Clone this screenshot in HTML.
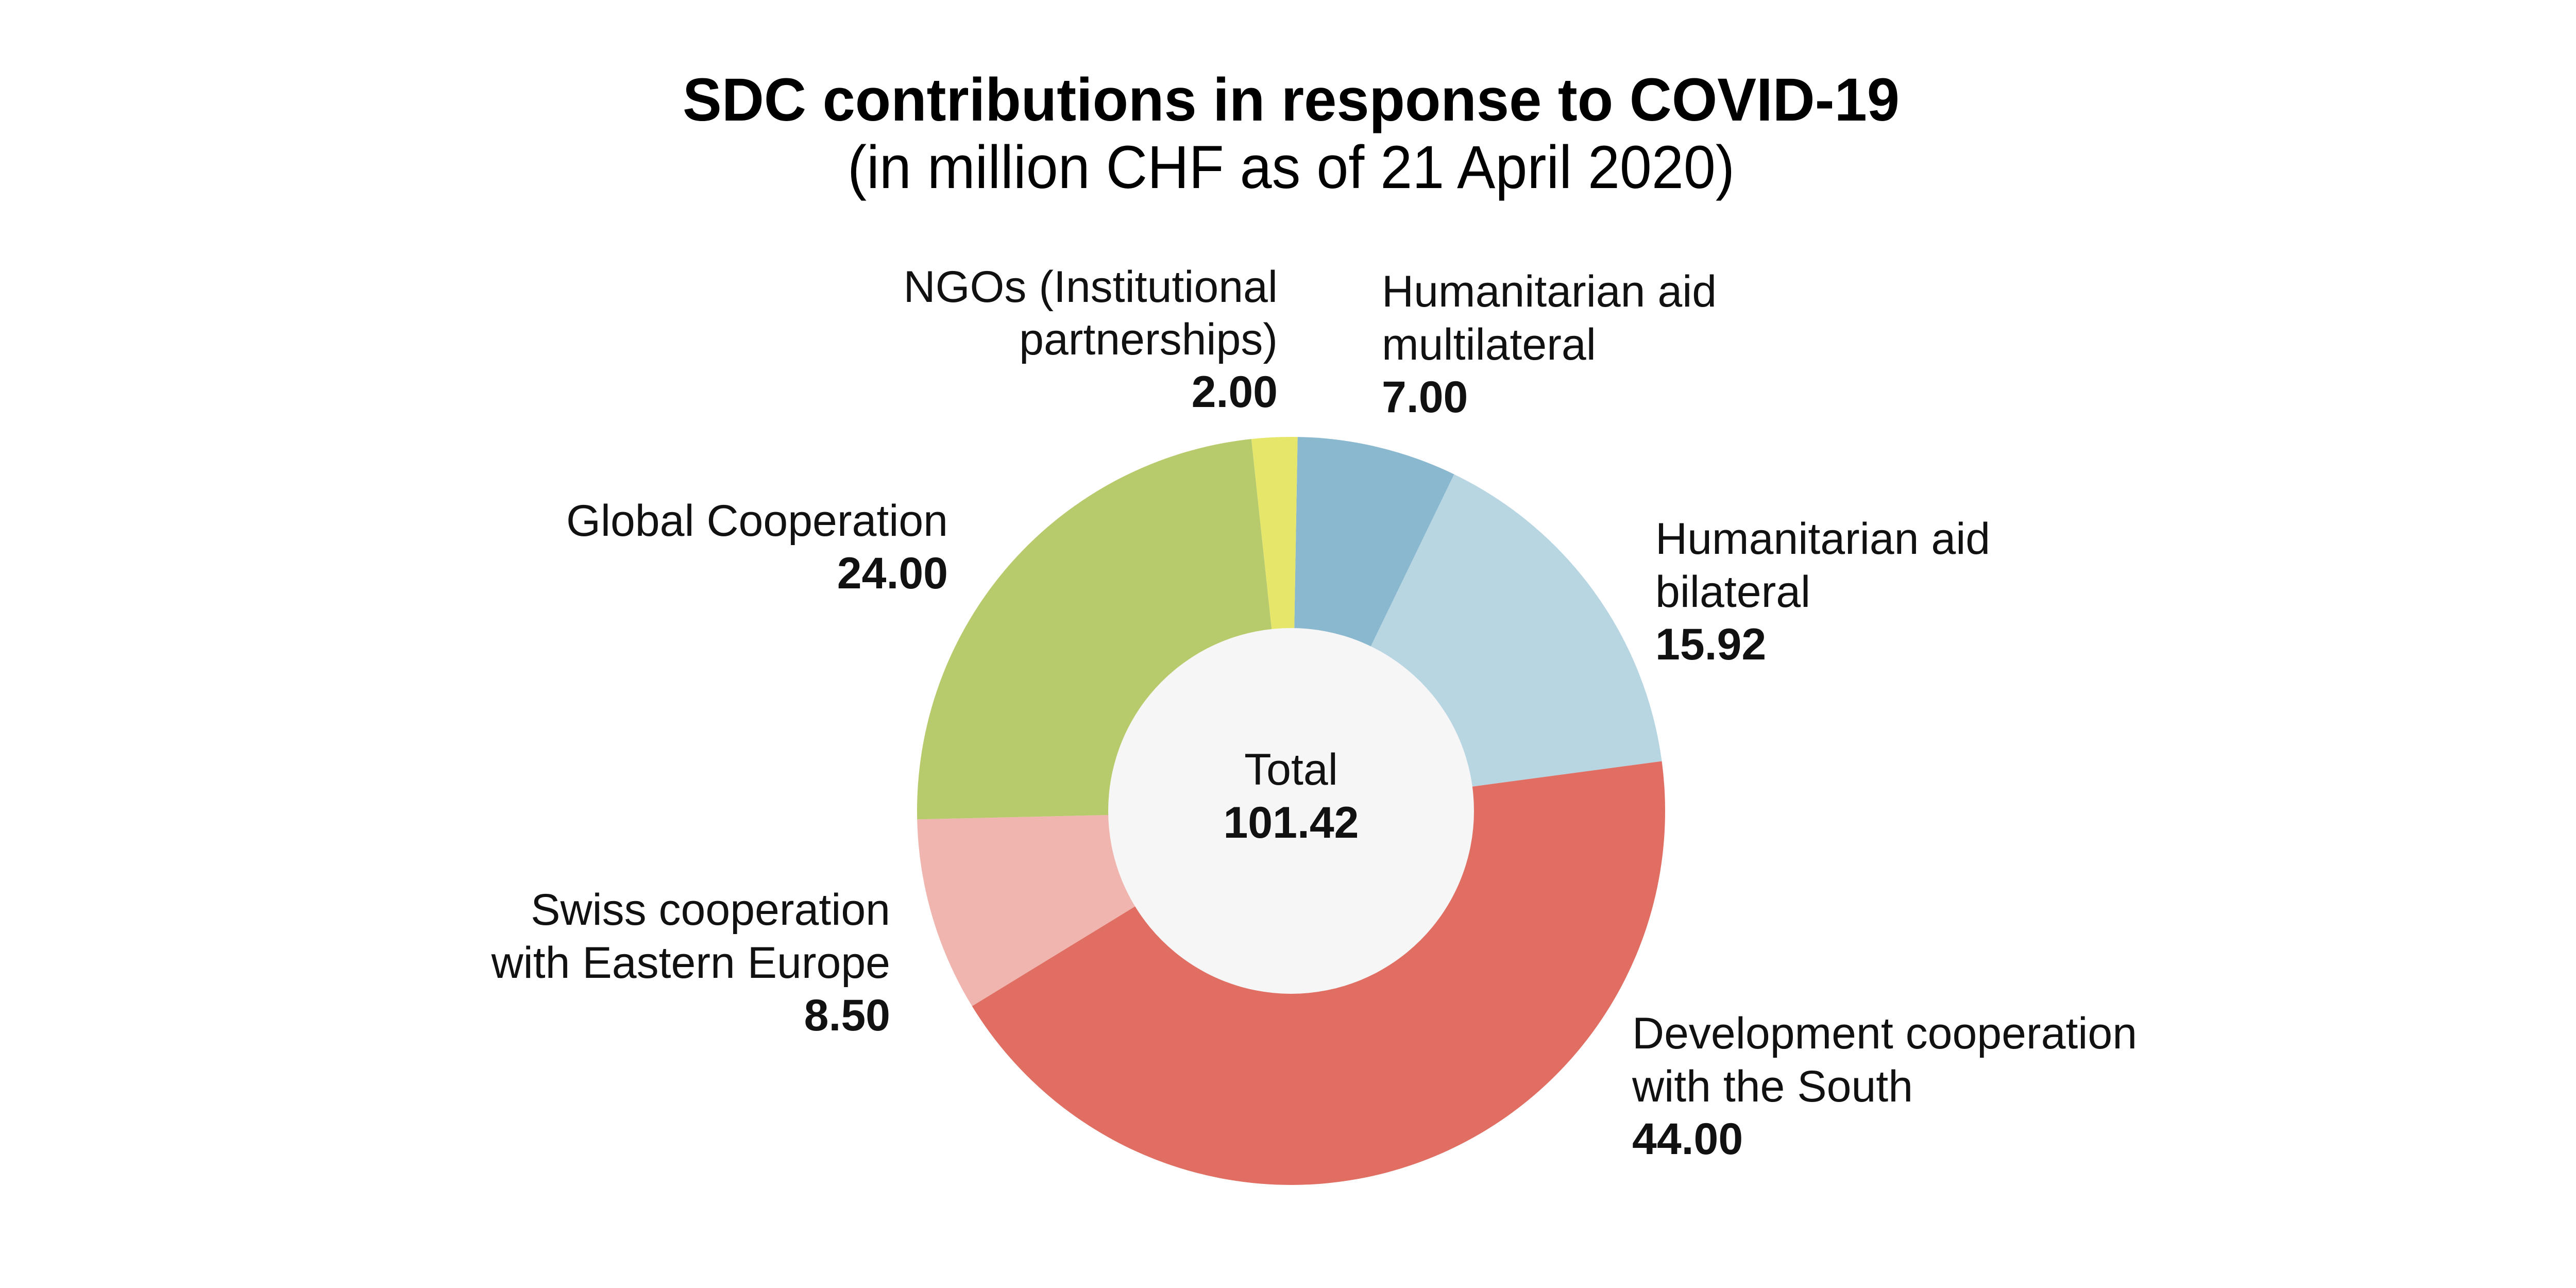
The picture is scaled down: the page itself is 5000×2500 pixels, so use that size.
<!DOCTYPE html>
<html><head><meta charset="utf-8"><style>
html,body{margin:0;padding:0;background:#fff;}
svg{display:block;font-family:"Liberation Sans",sans-serif;}
</style></head><body>
<svg id="chart" width="5000" height="2500" viewBox="0 0 5000 2500">
<text x="2506" y="234" text-anchor="middle" font-size="118" font-weight="bold" textLength="2362" lengthAdjust="spacingAndGlyphs">SDC contributions in response to COVID-19</text>
<text x="2506" y="365" text-anchor="middle" font-size="118" textLength="1722" lengthAdjust="spacingAndGlyphs">(in million CHF as of 21 April 2020)</text>
<g id="slices"></g>
<circle cx="2506" cy="1574" r="355" fill="#f6f6f6"/>
<g font-size="86" fill="#111">
<text x="2506" y="1523" text-anchor="middle">Total</text>
<text x="2506" y="1626" text-anchor="middle" font-weight="bold">101.42</text>
<g text-anchor="end">
<text x="2480" y="586">NGOs (Institutional</text><text x="2480" y="688">partnerships)</text><text x="2480" y="790" font-weight="bold" id="v5">2.00</text></g>
<g>
<text x="2682" y="595">Humanitarian aid</text><text x="2682" y="698">multilateral</text><text x="2682" y="800" font-weight="bold" id="v0">7.00</text></g>
<g text-anchor="end">
<text x="1840" y="1040">Global Cooperation</text><text x="1840" y="1142" font-weight="bold" id="v4">24.00</text></g>
<g>
<text x="3213" y="1075">Humanitarian aid</text><text x="3213" y="1178">bilateral</text><text x="3213" y="1280" font-weight="bold" id="v1">15.92</text></g>
<g text-anchor="end">
<text x="1728" y="1795">Swiss cooperation</text><text x="1728" y="1898">with Eastern Europe</text><text x="1728" y="2000" font-weight="bold" id="v3">8.50</text></g>
<g>
<text x="3168" y="2035">Development cooperation</text><text x="3168" y="2138">with the South</text><text x="3168" y="2240" font-weight="bold" id="v2">44.00</text></g>
</g>
</svg>
<script>
const categories = ["Humanitarian aid multilateral","Humanitarian aid bilateral","Development cooperation with the South","Swiss cooperation with Eastern Europe","Global Cooperation","NGOs (Institutional partnerships)"];
const values = [7.00, 15.92, 44.00, 8.50, 24.00, 2.00];
const colors = ["#8ab8cf","#b8d5e2","#e06e63","#efb5ae","#b8cb6c","#e5e66a"];
const slugs = ["slice-humanitarian-multilateral","slice-humanitarian-bilateral","slice-development-south","slice-swiss-eastern-europe","slice-global-cooperation","slice-ngos"];
const cx=2506, cy=1574, R=726, startDeg=1;
const total = values.reduce((a,b)=>a+b,0);
const g = document.getElementById('slices');
function pt(deg){const a=(deg-90)*Math.PI/180;return [cx+R*Math.cos(a), cy+R*Math.sin(a)];}
let acc=0;
values.forEach((v,i)=>{
  const a0=startDeg+acc/total*360; acc+=v; const a1=startDeg+acc/total*360;
  const p0=pt(a0), p1=pt(a1);
  const large=(a1-a0)>180?1:0;
  const p=document.createElementNS('http://www.w3.org/2000/svg','path');
  p.setAttribute('d',`M${cx},${cy} L${p0[0]},${p0[1]} A${R},${R} 0 ${large} 1 ${p1[0]},${p1[1]} Z`);
  p.setAttribute('fill',colors[i]);
  
  
  g.appendChild(p);
  const t=document.getElementById('v'+i); if(t) t.textContent=v.toFixed(2);
});
</script>
</body></html>
